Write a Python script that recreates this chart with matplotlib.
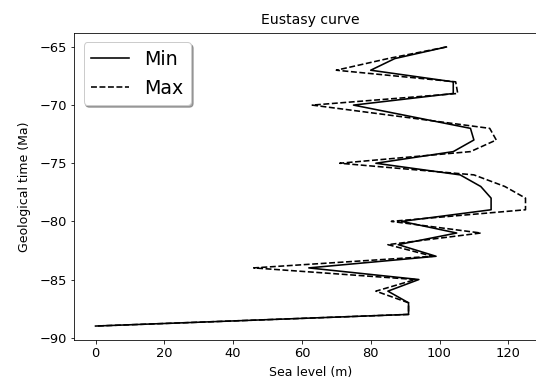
import numpy as np
import matplotlib
matplotlib.use('Agg')
import matplotlib.pyplot as plt

plt.rcParams['font.size'] = 12.5

# geological time steps (Ma)
time_ma = [-65, -66, -67, -68, -69, -70, -71, -72, -73, -74, -75, -76, -77,
           -78, -79, -80, -81, -82, -83, -84, -85, -86, -87, -88, -89]

# sea level estimates (m)
sea_min = [102, 87, 80, 104, 104, 75, 92, 109, 110, 104, 81.5, 106, 112,
           115, 115, 89, 105, 88, 99, 62, 94, 85, 91, 91, 0]
sea_max = [102, 85, 70, 104.7, 105.3, 63, 89, 114.6, 116.5, 109, 71, 110, 119,
           125, 125, 86, 112, 85, 98, 46, 93, 81.5, 91, 91, 0]

fig = plt.figure(figsize=(536 / 72, 387 / 72), dpi=72)
ax = fig.add_axes([74 / 536, 47 / 387, 473 / 536, 307 / 387])

ax.plot(sea_min, time_ma, color='black', linewidth=1.6, label='Min')
ax.plot(sea_max, time_ma, color='black', linewidth=1.6, linestyle='--', label='Max')

ax.tick_params(labelsize=13)
ax.set_title('Eustasy curve', fontsize=14, pad=9)
ax.set_xlabel('Sea level (m)', labelpad=6)
ax.set_ylabel('Geological time (Ma)', labelpad=8)
ax.legend(loc='upper left', fontsize=19, shadow=True)

fig.savefig('out.png', dpi=72)
